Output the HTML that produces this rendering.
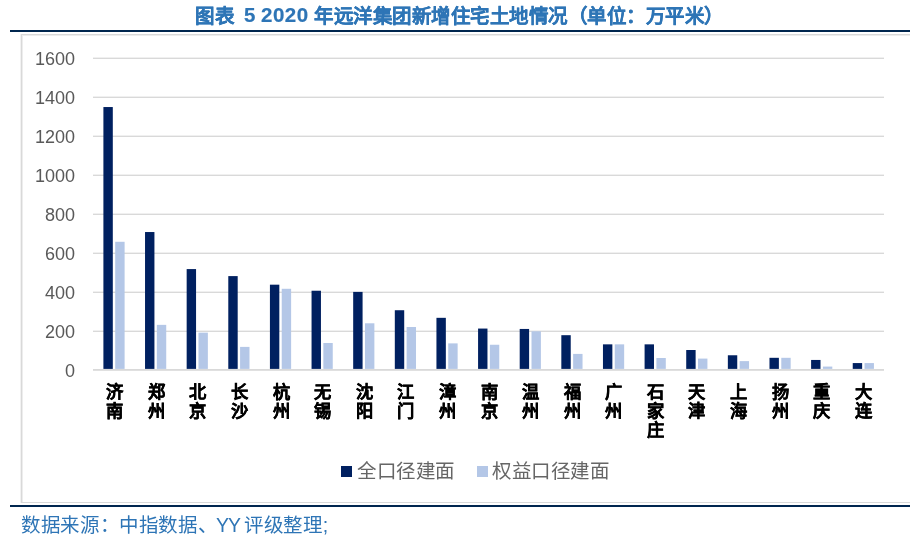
<!DOCTYPE html>
<html lang="zh-CN"><head><meta charset="utf-8"><style>
html,body{margin:0;padding:0;background:#fff;}
body{width:919px;height:539px;position:relative;overflow:hidden;font-family:"Liberation Sans",sans-serif;}
.t{position:absolute;top:4px;font-weight:bold;font-size:19.5px;letter-spacing:-0.5px;-webkit-text-stroke:0.25px #2E75B6;line-height:24px;color:#2E75B6;white-space:nowrap;}
.rule{position:absolute;left:10px;width:900px;height:2px;background:#00264f;}
.box{position:absolute;left:21px;top:34px;width:889px;height:469px;border-top:1px solid #d9d9d9;border-left:1px solid #d9d9d9;border-bottom:1px solid #d9d9d9;box-sizing:border-box;box-shadow:-1px 0 0 #f2f2f2, inset 1px 1px 0 #ededed;}
svg{position:absolute;left:0;top:0;}
.t,.yl,.xl,.lg,.f{will-change:transform;}
.yl{position:absolute;left:20px;width:55px;text-align:right;font-size:18px;line-height:22px;color:#595959;}
.xl{position:absolute;top:383.4px;width:30px;text-align:center;font-family:"Liberation Serif",serif;font-weight:bold;font-size:17.3px;line-height:19px;color:#000;-webkit-text-stroke:0.35px #000;}
.lg{position:absolute;top:459.5px;font-family:"Liberation Serif",serif;font-size:19.5px;letter-spacing:-0.4px;line-height:24px;color:#666;white-space:nowrap;}
.sq{position:absolute;top:466px;width:11px;height:11px;}
.f{position:absolute;top:511.5px;font-size:19.5px;letter-spacing:-0.3px;line-height:26px;color:#2E75B6;white-space:nowrap;}
</style></head><body>
<div class="t" style="left:195px">图表</div>
<div class="t" style="left:244px;top:3px;font-size:20.5px;-webkit-text-stroke-width:0.2px">5</div>
<div class="t" style="left:261px;top:3px;font-size:20.5px;letter-spacing:0.5px;-webkit-text-stroke-width:0.2px">2020</div>
<div class="t" style="left:314px">年远洋集团新增住宅土地情况（单位：万平米）</div>
<div class="rule" style="top:30px"></div>
<div class="box"></div>
<svg width="919" height="539" viewBox="0 0 919 539"><rect x="93" y="330.60" width="791" height="1.4" fill="#d9d9d9"/><rect x="93" y="291.60" width="791" height="1.4" fill="#d9d9d9"/><rect x="93" y="252.60" width="791" height="1.4" fill="#d9d9d9"/><rect x="93" y="213.60" width="791" height="1.4" fill="#d9d9d9"/><rect x="93" y="174.60" width="791" height="1.4" fill="#d9d9d9"/><rect x="93" y="135.60" width="791" height="1.4" fill="#d9d9d9"/><rect x="93" y="96.60" width="791" height="1.4" fill="#d9d9d9"/><rect x="93" y="57.60" width="791" height="1.4" fill="#d9d9d9"/><rect x="93" y="369.00" width="791" height="1.8" fill="#d9d9d9"/><rect x="103.40" y="107.04" width="9.4" height="261.86" fill="#002060"/><rect x="115.20" y="241.78" width="9.4" height="127.12" fill="#B4C7E7"/><rect x="145.03" y="232.03" width="9.4" height="136.87" fill="#002060"/><rect x="156.83" y="324.85" width="9.4" height="44.05" fill="#B4C7E7"/><rect x="186.66" y="269.08" width="9.4" height="99.81" fill="#002060"/><rect x="198.46" y="332.65" width="9.4" height="36.25" fill="#B4C7E7"/><rect x="228.29" y="276.10" width="9.4" height="92.80" fill="#002060"/><rect x="240.09" y="346.89" width="9.4" height="22.01" fill="#B4C7E7"/><rect x="269.92" y="284.68" width="9.4" height="84.22" fill="#002060"/><rect x="281.72" y="288.78" width="9.4" height="80.12" fill="#B4C7E7"/><rect x="311.55" y="290.73" width="9.4" height="78.17" fill="#002060"/><rect x="323.35" y="342.99" width="9.4" height="25.91" fill="#B4C7E7"/><rect x="353.18" y="291.90" width="9.4" height="77.00" fill="#002060"/><rect x="364.98" y="323.29" width="9.4" height="45.61" fill="#B4C7E7"/><rect x="394.81" y="310.23" width="9.4" height="58.67" fill="#002060"/><rect x="406.61" y="327.00" width="9.4" height="41.90" fill="#B4C7E7"/><rect x="436.44" y="317.83" width="9.4" height="51.06" fill="#002060"/><rect x="448.24" y="343.38" width="9.4" height="25.52" fill="#B4C7E7"/><rect x="478.07" y="328.56" width="9.4" height="40.34" fill="#002060"/><rect x="489.87" y="344.75" width="9.4" height="24.15" fill="#B4C7E7"/><rect x="519.70" y="328.95" width="9.4" height="39.95" fill="#002060"/><rect x="531.50" y="331.29" width="9.4" height="37.61" fill="#B4C7E7"/><rect x="561.33" y="335.19" width="9.4" height="33.71" fill="#002060"/><rect x="573.13" y="353.91" width="9.4" height="14.99" fill="#B4C7E7"/><rect x="602.96" y="344.35" width="9.4" height="24.55" fill="#002060"/><rect x="614.76" y="344.35" width="9.4" height="24.55" fill="#B4C7E7"/><rect x="644.59" y="344.35" width="9.4" height="24.55" fill="#002060"/><rect x="656.39" y="358.00" width="9.4" height="10.89" fill="#B4C7E7"/><rect x="686.22" y="350.01" width="9.4" height="18.89" fill="#002060"/><rect x="698.02" y="358.59" width="9.4" height="10.31" fill="#B4C7E7"/><rect x="727.85" y="355.27" width="9.4" height="13.62" fill="#002060"/><rect x="739.65" y="361.12" width="9.4" height="7.77" fill="#B4C7E7"/><rect x="769.48" y="357.81" width="9.4" height="11.09" fill="#002060"/><rect x="781.28" y="357.81" width="9.4" height="11.09" fill="#B4C7E7"/><rect x="811.11" y="359.95" width="9.4" height="8.94" fill="#002060"/><rect x="822.91" y="366.58" width="9.4" height="2.31" fill="#B4C7E7"/><rect x="852.74" y="363.07" width="9.4" height="5.82" fill="#002060"/><rect x="864.54" y="363.07" width="9.4" height="5.82" fill="#B4C7E7"/></svg>
<div class="yl" style="top:359.9px">0</div><div class="yl" style="top:320.9px">200</div><div class="yl" style="top:281.9px">400</div><div class="yl" style="top:242.9px">600</div><div class="yl" style="top:203.9px">800</div><div class="yl" style="top:164.9px">1000</div><div class="yl" style="top:125.9px">1200</div><div class="yl" style="top:86.9px">1400</div><div class="yl" style="top:47.9px">1600</div>
<div class="xl" style="left:99.30px">济<br>南</div><div class="xl" style="left:140.88px">郑<br>州</div><div class="xl" style="left:182.46px">北<br>京</div><div class="xl" style="left:224.04px">长<br>沙</div><div class="xl" style="left:265.62px">杭<br>州</div><div class="xl" style="left:307.20px">无<br>锡</div><div class="xl" style="left:348.78px">沈<br>阳</div><div class="xl" style="left:390.36px">江<br>门</div><div class="xl" style="left:431.94px">漳<br>州</div><div class="xl" style="left:473.52px">南<br>京</div><div class="xl" style="left:515.10px">温<br>州</div><div class="xl" style="left:556.68px">福<br>州</div><div class="xl" style="left:598.26px">广<br>州</div><div class="xl" style="left:639.84px">石<br>家<br>庄</div><div class="xl" style="left:681.42px">天<br>津</div><div class="xl" style="left:723.00px">上<br>海</div><div class="xl" style="left:764.58px">扬<br>州</div><div class="xl" style="left:806.16px">重<br>庆</div><div class="xl" style="left:847.74px">大<br>连</div>
<div class="sq" style="left:341px;background:#002060"></div>
<div class="lg" style="left:356.5px">全口径建面</div>
<div class="sq" style="left:477px;background:#B4C7E7"></div>
<div class="lg" style="left:492px">权益口径建面</div>
<div class="rule" style="top:505px"></div>
<div class="f" style="left:21px">数据来源：</div>
<div class="f" style="left:119px">中指数据、</div>
<div class="f" style="left:216px;letter-spacing:-1px">YY</div>
<div class="f" style="left:244px">评级整理;</div>
</body></html>
